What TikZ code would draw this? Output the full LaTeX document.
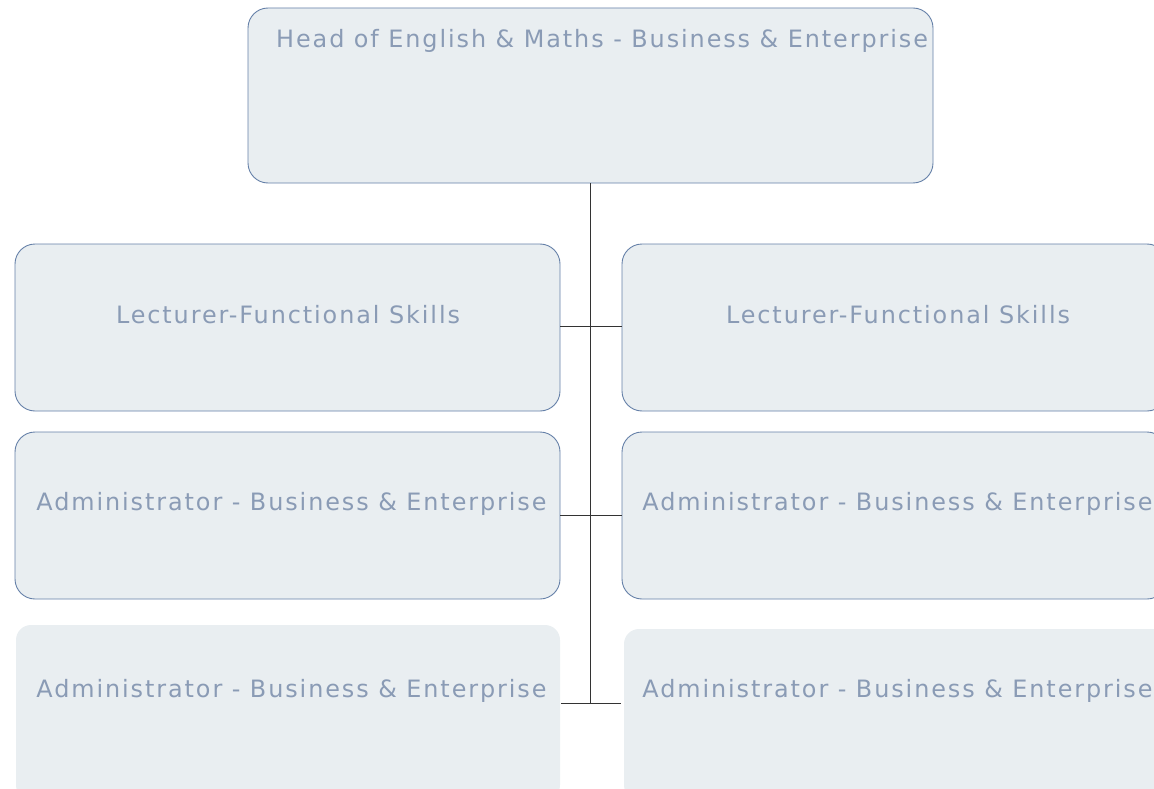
\documentclass[tikz,border=0pt]{standalone}
\usepackage{fontspec}
\setmainfont{DejaVu Sans}
\newfontfamily\lblfont[LetterSpace=8]{DejaVu Sans}
\definecolor{boxfill}{HTML}{E9EEF1}
\definecolor{boxline}{HTML}{6580A8}
\definecolor{txt}{HTML}{8A9BB5}
\begin{document}
\begin{tikzpicture}[x=1pt,y=-1pt,
  box/.style={draw=boxline,fill=boxfill,rounded corners=20pt,line width=0.9pt},
  flatbox/.style={fill=boxfill,rounded corners=15pt},
  lbl/.style={text=txt,font=\lblfont\fontsize{23.9}{28}\selectfont,inner sep=0pt},
  conn/.style={draw=black!80,line width=0.8pt}]
\useasboundingbox (0,0) rectangle (1154,789);
\clip (0,0) rectangle (1154,789);
% boxes
\draw[box] (248,8) rectangle (933,183);
\coordinate (top) at (590.5,183);
\draw[box] (15,244) rectangle (560,411);
\draw[box] (622,244) rectangle (1167,411);
\draw[box] (15,432) rectangle (560,599);
\draw[box] (622,432) rectangle (1167,599);
\fill[flatbox] (16,625) rectangle (560,800);
\fill[flatbox] (624,629) rectangle (1170,800);
% labels
\node[lbl,anchor=west] (t0) at (276,41) {Head of English \& Maths - Business \& Enterprise};
\node[lbl] (l1) at (288,315) {Lecturer-Functional Skills};
\node[lbl] (r1) at (898,315) {Lecturer-Functional Skills};
\node[lbl] (l2) at (291.5,504) {Administrator - Business \& Enterprise};
\node[lbl] (r2) at (897.5,504) {Administrator - Business \& Enterprise};
\node[lbl] (l3) at (291.5,691) {Administrator - Business \& Enterprise};
\node[lbl] (r3) at (897.5,691) {Administrator - Business \& Enterprise};
% connectors
\coordinate (a1) at (560,326);  \coordinate (b1) at (622,326);
\coordinate (a2) at (560,515);  \coordinate (b2) at (622,515);
\coordinate (a3) at (561,703);  \coordinate (b3) at (621,703);
\coordinate (bot) at (590.5,703);
\draw[conn] (top) -- (bot);
\draw[conn] (a1) -- (b1);
\draw[conn] (a2) -- (b2);
\draw[conn] (a3) -- (b3);
\end{tikzpicture}
\end{document}
